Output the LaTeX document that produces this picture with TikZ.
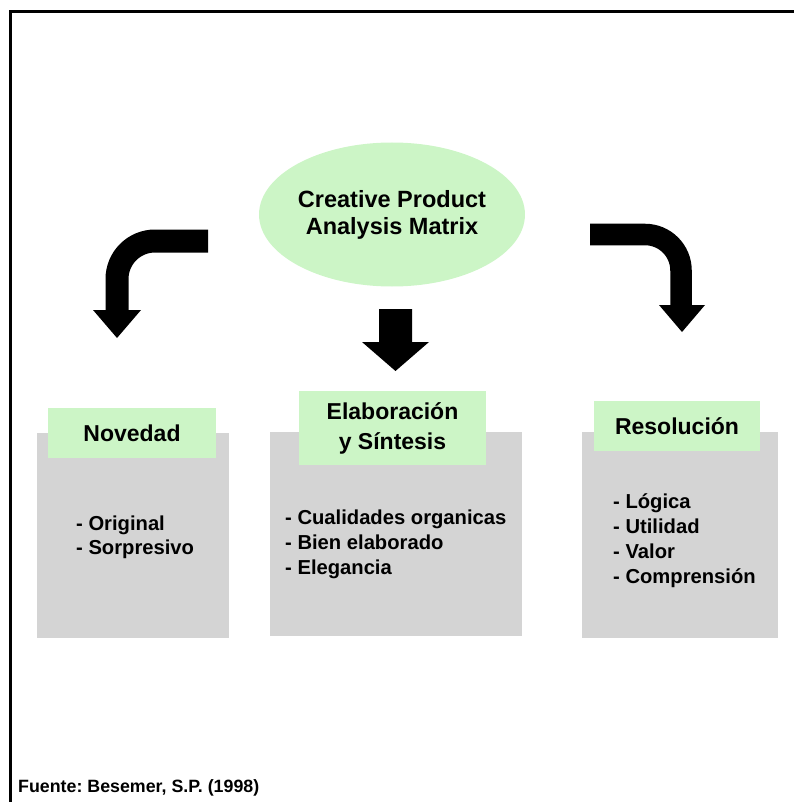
\documentclass[tikz,border=0pt]{standalone}
\usepackage{fontspec}
\setmainfont{Liberation Sans}
\usetikzlibrary{shapes.geometric}
\frenchspacing
\definecolor{labgreen}{RGB}{204,245,198}
\definecolor{boxgray}{RGB}{212,212,212}
\tikzset{
  panel/.style={fill=boxgray, draw=none},
  labelbox/.style={fill=labgreen, draw=none, inner sep=0pt, align=center,
    font=\bfseries\fontsize{23}{30}\selectfont},
  itemtext/.style={anchor=base west, inner sep=0pt,
    font=\bfseries\fontsize{20.2}{25}\selectfont},
  bigarrow/.style={draw=black, line cap=butt, line join=miter},
  arrowhead/.style={fill=black, draw=none}
}
\begin{document}
\begin{tikzpicture}[x=1pt,y=-1pt]
  \useasboundingbox (0,0) rectangle (794,802);
  % outer frame (left and top edges)
  \draw[line width=3pt] (10.5,802) -- (10.5,12) -- (794,12);

  % central ellipse
  \node[ellipse, fill=labgreen, minimum width=254pt, minimum height=144pt,
        inner sep=0pt, align=center, font=\bfseries\fontsize{23.5}{27}\selectfont]
        (cpam) at (392,214.5) {Creative Product\\Analysis Matrix};

  % grey panels
  \node[panel, minimum width=192pt, minimum height=205pt, inner sep=0pt] (novpanel) at (133,535.5) {};
  \node[panel, minimum width=252pt, minimum height=204pt, inner sep=0pt] (elapanel) at (396,534) {};
  \node[panel, minimum width=196pt, minimum height=206pt, inner sep=0pt] (respanel) at (680,535) {};

  % green headings
  \node[labelbox, minimum width=168pt, minimum height=50pt] (novlab) at (132,433) {Novedad};
  \node[labelbox, minimum width=187pt, minimum height=74pt] (elalab) at (392.5,428) {Elaboración\\y Síntesis};
  \node[labelbox, minimum width=166pt, minimum height=50pt] (reslab) at (677,426) {Resolución};

  % item lists
  \node[itemtext] (nov1) at (76,530) {- Original};
  \node[itemtext] (nov2) at (76,554) {- Sorpresivo};

  \node[itemtext] (ela1) at (285,524.5) {- Cualidades organicas};
  \node[itemtext] (ela2) at (285,549.5) {- Bien elaborado};
  \node[itemtext] (ela3) at (285,574.5) {- Elegancia};

  \node[itemtext] (res1) at (613,508.5) {- Lógica};
  \node[itemtext] (res2) at (613,533.5) {- Utilidad};
  \node[itemtext] (res3) at (613,558.5) {- Valor};
  \node[itemtext] (res4) at (613,583.5) {- Comprensión};

  % arrow anchor points
  \coordinate (lstart) at (208,241);
  \coordinate (lend)   at (117,311);
  \coordinate (rstart) at (590,234.5);
  \coordinate (rend)   at (681,306);

  % left bent arrow
  \draw[bigarrow, line width=23pt, rounded corners=38pt] (lstart) -| (lend);
  \fill[arrowhead] (93,310) -- (141,310) -- (117,338) -- cycle;

  % right bent arrow
  \draw[bigarrow, line width=21.5pt, rounded corners=36pt] (rstart) -| (rend);
  \fill[arrowhead] (659,305) -- (705,305) -- (682,332) -- cycle;

  % central straight arrow
  \fill[arrowhead] (379,309) -- (412,309) -- (412,342) -- (429,342)
        -- (395.5,371) -- (362,342) -- (379,342) -- cycle;

  % source note
  \node[anchor=base west, inner sep=0pt, font=\bfseries\fontsize{17.8}{20}\selectfont]
        (src) at (18,792) {Fuente: Besemer, S.P. (1998)};
\end{tikzpicture}
\end{document}
